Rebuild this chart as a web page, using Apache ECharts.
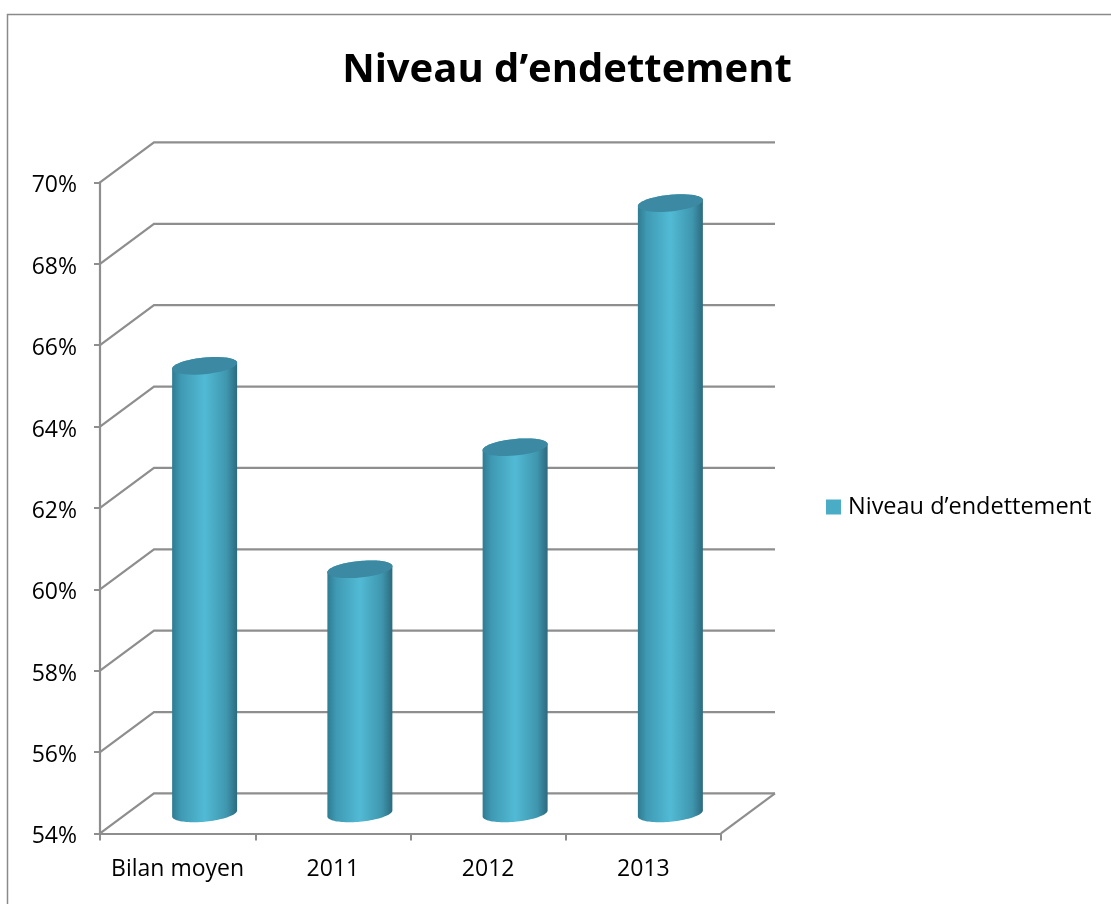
<!DOCTYPE html>
<html>
<head>
<meta charset="utf-8">
<style>html,body{margin:0;padding:0;background:#fff}#chart{width:1111px;height:904px}</style>
<script src="https://cdn.jsdelivr.net/npm/echarts@6/dist/echarts.min.js"></script>
</head>
<body>
<div id="chart"></div>
<script>
// Debt level per period
const categories = ['Bilan moyen', '2011', '2012', '2013'];
const debtLevels = [65, 60, 63, 69];
const wallTicks = [54, 56, 58, 60, 62, 64, 66, 68, 70];

const SERIES_NAME = 'Niveau d\u2019endettement';
const FONT = '"Open Sans", sans-serif';
const LINE = '#8e8e8e';
// Oblique projection of the chart box: how far the back wall sits from the front plane
const DEPTH_X = 54, DEPTH_Y = 40;
const BAR_WIDTH = 65, CAP_RY = 8.3, CAP_SLOPE = 3, RIM_STEPS = 48;

const bodyFill = {
  type: 'linear', x: 0, y: 0, x2: 1, y2: 0,
  colorStops: [
    { offset: 0, color: '#2e7c92' },
    { offset: 0.14, color: '#3f9ab4' },
    { offset: 0.5, color: '#52bad5' },
    { offset: 0.84, color: '#3f96ae' },
    { offset: 1, color: '#2c6a7e' }
  ]
};

function renderWall(params, api) {
  const cs = params.coordSys;
  const y = api.coord([0, api.value(0)])[1];
  const children = [{
    type: 'polyline',
    shape: { points: [[cs.x, y], [cs.x + DEPTH_X, y - DEPTH_Y], [cs.x + cs.width + DEPTH_X, y - DEPTH_Y]] },
    style: { stroke: LINE, lineWidth: 2.2, fill: null }
  }];
  if (params.dataIndex === 0) {
    children.push({
      type: 'line',
      shape: { x1: cs.x + cs.width, y1: y, x2: cs.x + cs.width + DEPTH_X, y2: y - DEPTH_Y },
      style: { stroke: LINE, lineWidth: 2.2 }
    });
  }
  return { type: 'group', children };
}

// Points along a tilted rim, between two angles given in half turns
function rim(cx, cy, from, to) {
  const a = BAR_WIDTH / 2, pts = [];
  for (let i = 0; i <= RIM_STEPS; i++) {
    const t = (from + (to - from) * i / RIM_STEPS) * Math.PI;
    pts.push([cx + a * Math.cos(t), cy + CAP_RY * Math.sin(t) - CAP_SLOPE * Math.cos(t)]);
  }
  return pts;
}

function renderCylinder(params, api) {
  const top = api.coord([api.value(0), api.value(1)]);
  const base = api.coord([api.value(0), 54]);
  // Cylinders stand halfway between the front plane and the back wall
  const cx = top[0] + DEPTH_X / 2;
  const yTop = top[1] - DEPTH_Y / 2;
  const yBase = base[1] - DEPTH_Y / 2;
  return {
    type: 'group',
    children: [
      { type: 'polygon', shape: { points: rim(cx, yTop, 1, 2).concat(rim(cx, yBase, 0, 1)) }, style: { fill: bodyFill } },
      { type: 'polygon', shape: { points: rim(cx, yTop, 0, 2) }, style: { fill: '#3b89a2' } }
    ]
  };
}

const chart = echarts.init(document.getElementById('chart'), null, { renderer: 'canvas' });
chart.setOption({
  animation: false,
  backgroundColor: '#ffffff',
  textStyle: { fontFamily: FONT },
  title: {
    text: SERIES_NAME,
    left: 562, top: 46, textAlign: 'center',
    textStyle: { fontFamily: FONT, fontWeight: 'bold', fontSize: 40, color: '#000000' }
  },
  legend: {
    data: [{ name: SERIES_NAME, icon: 'rect', itemStyle: { color: '#4bacc6' } }],
    left: 826, top: 495, padding: 0, itemWidth: 15, itemHeight: 15,
    textStyle: { fontFamily: FONT, fontSize: 23.5, color: '#000000', padding: [0, 0, 0, 2] }
  },
  grid: { left: 100, top: 182.4, width: 621, height: 651 },
  xAxis: {
    type: 'category',
    data: categories,
    axisLine: { lineStyle: { color: LINE, width: 2.2 } },
    axisTick: { show: true, length: 7, lineStyle: { color: LINE, width: 2 } },
    axisLabel: { fontFamily: FONT, fontSize: 23, color: '#000000', margin: 25, interval: 0 },
    splitLine: { show: false }
  },
  yAxis: {
    type: 'value',
    min: 54, max: 70, interval: 2,
    axisLine: { show: true, lineStyle: { color: LINE, width: 2.2 } },
    axisTick: { show: true, length: 6, lineStyle: { color: LINE, width: 2 } },
    axisLabel: { fontFamily: FONT, fontSize: 23, color: '#000000', margin: 23, verticalAlign: 'top', lineHeight: 7, formatter: '{value}%' },
    splitLine: { show: false }
  },
  series: [
    {
      name: 'wall',
      type: 'custom',
      coordinateSystem: 'cartesian2d',
      renderItem: renderWall,
      data: wallTicks.map(v => [v]),
      encode: { y: 0 },
      silent: true,
      clip: false,
      z: 1
    },
    {
      name: SERIES_NAME,
      type: 'custom',
      coordinateSystem: 'cartesian2d',
      renderItem: renderCylinder,
      itemStyle: { color: '#4bacc6' },
      data: debtLevels.map((v, i) => [i, v]),
      encode: { x: 0, y: 1 },
      clip: false,
      z: 3
    }
  ],
  graphic: [{
    type: 'polyline',
    silent: true,
    shape: { points: [[7.5, 904], [7.5, 14.5], [1111, 14.5]] },
    style: { stroke: '#8a8a8a', lineWidth: 1.5, fill: null }
  }]
});
</script>
</body>
</html>
